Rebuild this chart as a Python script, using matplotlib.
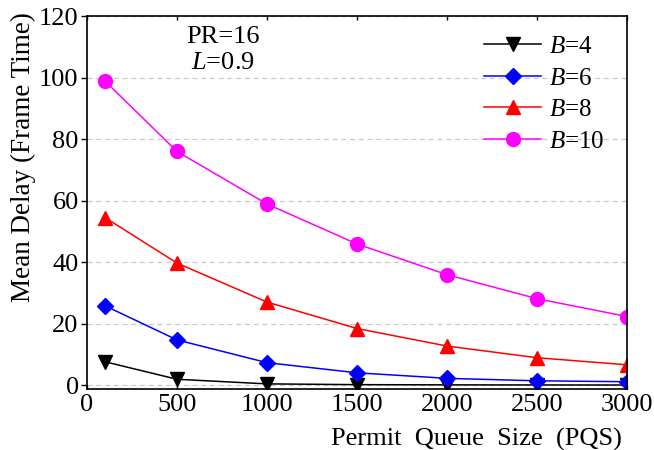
import matplotlib
matplotlib.use("Agg")
import matplotlib.pyplot as plt

plt.rcParams['font.family'] = ['Liberation Serif', 'DejaVu Serif']
plt.rcParams['mathtext.fontset'] = 'custom'
plt.rcParams['mathtext.it'] = 'Liberation Serif:italic'
plt.rcParams['mathtext.rm'] = 'Liberation Serif'

pqs = [100, 500, 1000, 1500, 2000, 2500, 3000]
b4 = [7.6, 1.9, 0.4, 0.15, 0.08, 0.05, 0.03]
b6 = [25.8, 14.7, 7.3, 4.0, 2.2, 1.4, 1.1]
b8 = [54.5, 39.7, 27.0, 18.4, 12.7, 8.9, 6.6]
b10 = [98.9, 76.0, 58.9, 45.9, 35.9, 28.1, 22.3]
labels = ['$\\mathit{B}$=4', '$\\mathit{B}$=6', '$\\mathit{B}$=8', '$\\mathit{B}$=10']
xticks = [0, 500, 1000, 1500, 2000, 2500, 3000]
yticks = [0, 20, 40, 60, 80, 100, 120]

fig = plt.figure(figsize=(6.54, 4.5), dpi=100)
ax = fig.add_axes([0.133, 0.136, 0.826, 0.828])

series = [(b4, 'black', 'v'), (b6, 'blue', 'D'), (b8, 'red', '^'), (b10, 'magenta', 'o')]
for (vals, c, m), lab in zip(series, labels):
    ax.plot(pqs, vals, color=c, marker=m, markersize=10 if m != 'D' else 8.5,
            linewidth=1.1, label=lab, markeredgecolor=c, markerfacecolor=c)

ax.set_xlim(0, 3000)
ax.set_ylim(-1.2, 120)
ax.set_xticks(xticks)
ax.set_yticks(yticks)
ax.tick_params(axis='both', labelsize=19, direction='out', length=4, width=1, pad=2)
ax.tick_params(axis='x', top=True, direction='in', length=3, pad=4)
ax.yaxis.grid(True, linestyle=(0, (4, 3)), color='#c8c8c8', linewidth=0.9)
ax.set_axisbelow(True)
for s in ax.spines.values():
    s.set_linewidth(1.2)

ax.set_ylabel('Mean Delay (Frame Time)', fontsize=19.5)
ax.yaxis.set_label_coords(-0.094, 0.622)
ax.set_xlabel('Permit  Queue  Size  (PQS)', fontsize=19, labelpad=0)
ax.xaxis.set_label_coords(0.991, -0.105)
ax.xaxis.label.set_horizontalalignment('right')

ax.text(0.252, 0.944, 'PR=16', transform=ax.transAxes, ha='center', va='center', fontsize=19)
ax.text(0.252, 0.874, '$\\mathit{L}$=0.9', transform=ax.transAxes, ha='center', va='center', fontsize=19)

ax.legend(loc='upper right', bbox_to_anchor=(0.99, 0.995), frameon=False, fontsize=18,
          handlelength=2.3, labelspacing=0.36, handletextpad=0.3, borderaxespad=0.3)

fig.savefig('out.png', dpi=100)
